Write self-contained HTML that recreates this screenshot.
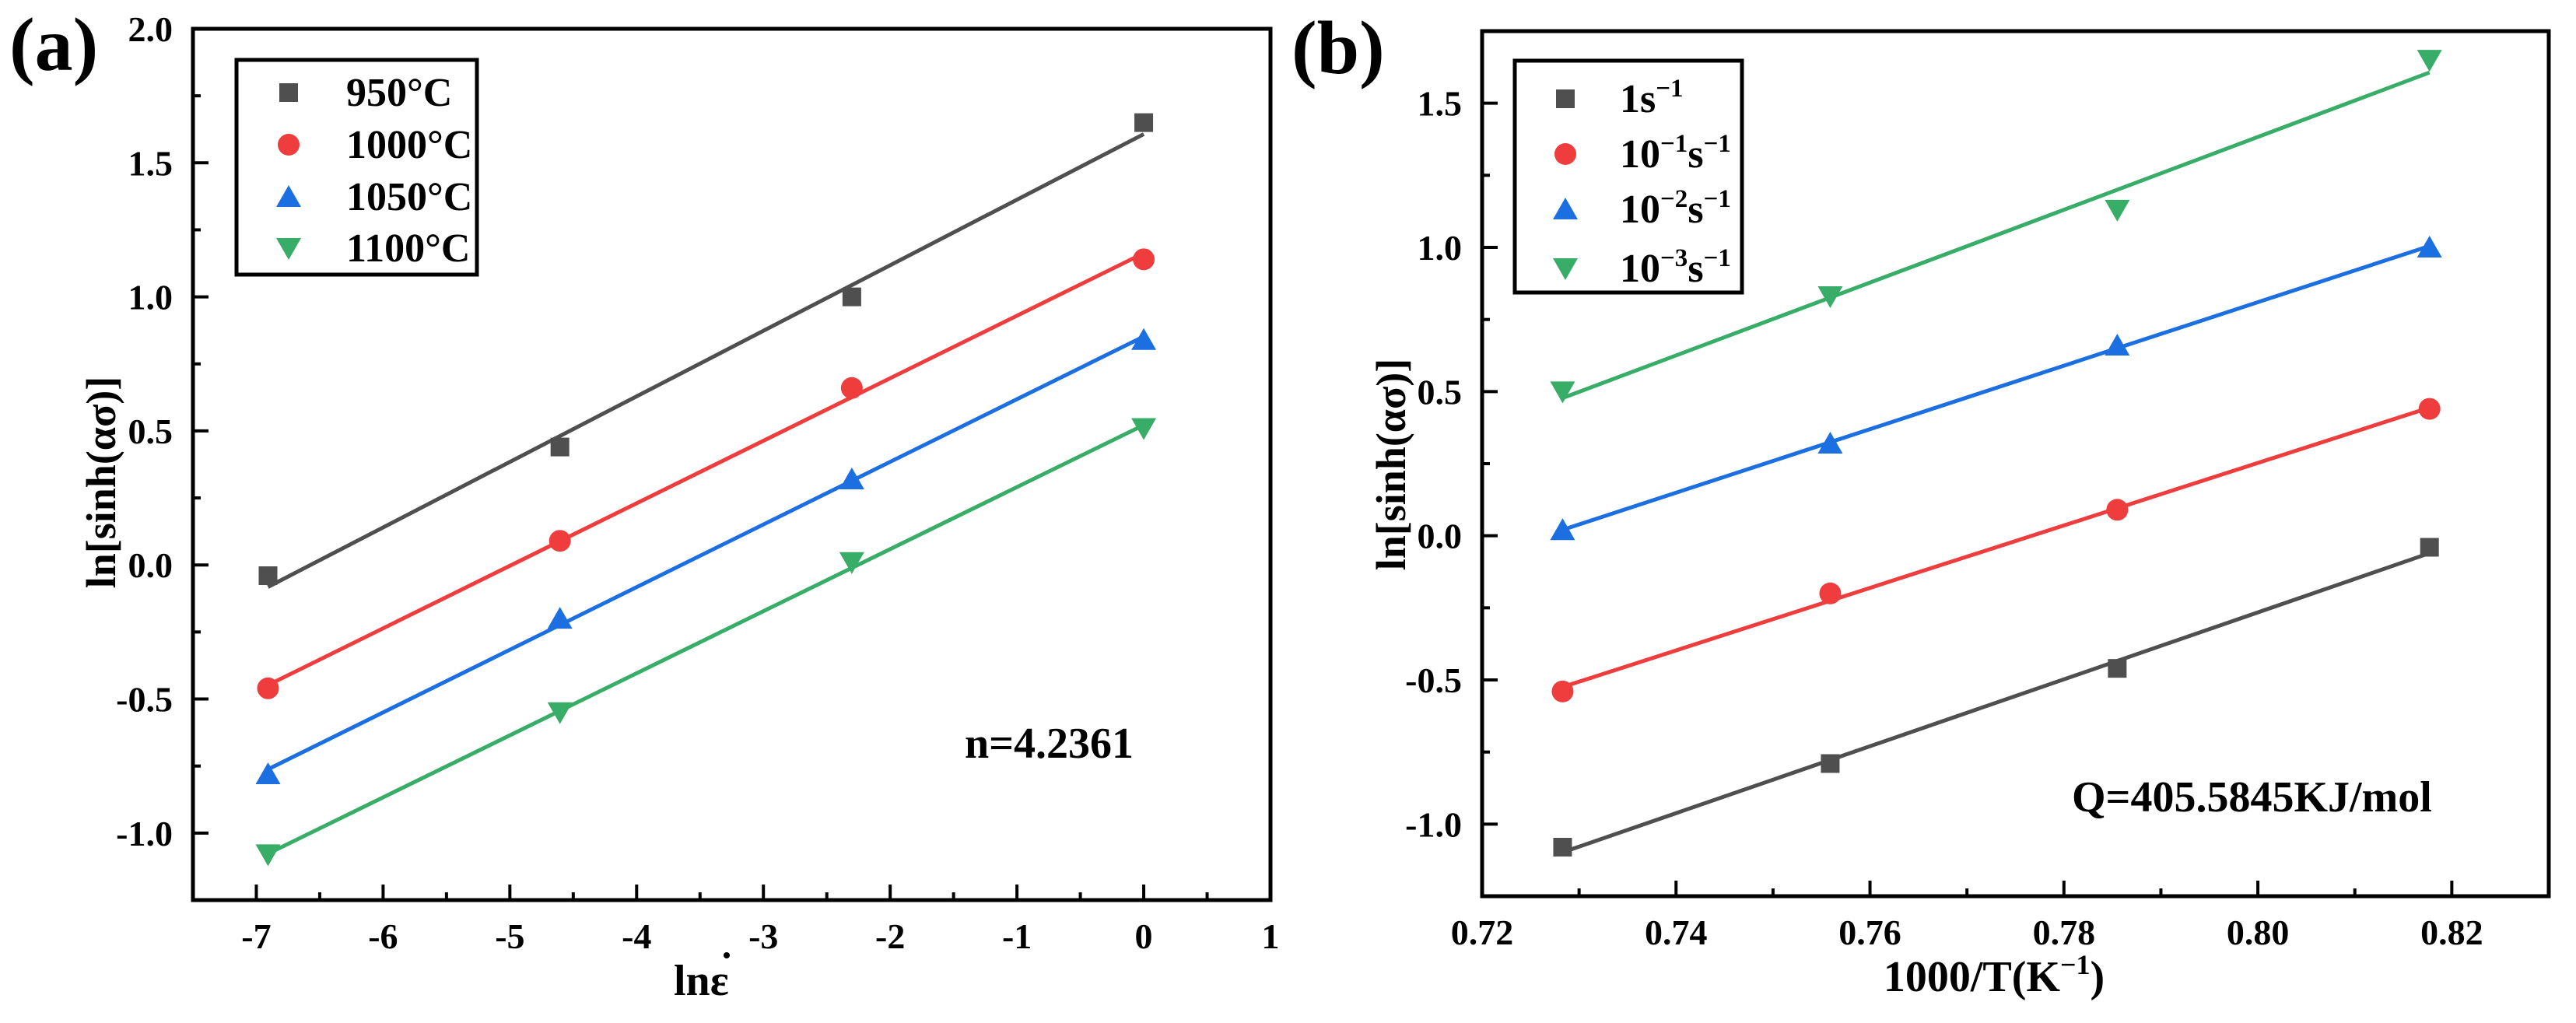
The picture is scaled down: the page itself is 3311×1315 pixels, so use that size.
<!DOCTYPE html>
<html><head><meta charset="utf-8"><style>
html,body{margin:0;padding:0;background:#fff;}
svg{display:block;}
svg text{font-family:"Liberation Serif","DejaVu Serif",serif;font-weight:bold;}
</style></head><body>
<svg id="fig" width="3311" height="1315" viewBox="0 0 3311 1315" xmlns="http://www.w3.org/2000/svg" font-family="Liberation Serif, DejaVu Serif, serif" font-weight="bold"></svg>
<script>
// ---- Chart (a) data ----
const aX = [-6.9078, -4.6052, -2.3026, 0];
const aNames = ["950°C", "1000°C", "1050°C", "1100°C"];
const a950 = [-0.04, 0.44, 1.00, 1.65];
const a1000 = [-0.46, 0.09, 0.66, 1.14];
const a1050 = [-0.78, -0.20, 0.32, 0.84];
const a1100 = [-1.08, -0.55, 0.01, 0.51];
const aXTicks = [-7, -6, -5, -4, -3, -2, -1, 0, 1];
const aYTicks = [-1.0, -0.5, 0.0, 0.5, 1.0, 1.5, 2.0];
// ---- Chart (b) data ----
const bX = [0.7283, 0.7559, 0.7855, 0.8177];
const bS0 = [-1.08, -0.79, -0.46, -0.04];
const bS1 = [-0.54, -0.20, 0.09, 0.44];
const bS2 = [0.02, 0.32, 0.66, 1.00];
const bS3 = [0.50, 0.83, 1.13, 1.65];
const bXTicks = [0.72, 0.74, 0.76, 0.78, 0.80, 0.82];
const bYTicks = [-1.0, -0.5, 0.0, 0.5, 1.0, 1.5];

const NS = "http://www.w3.org/2000/svg";
const svg = document.getElementById("fig");
const colors = ["#4f4f4f", "#ef3d3d", "#1c6fe0", "#38ad68"];
const shapes = ["square", "circle", "up", "down"];
const FONT = "Liberation Serif, DejaVu Serif, serif";

function mk(tag, attrs, parent) {
  const e = document.createElementNS(NS, tag);
  for (const k in attrs) e.setAttribute(k, attrs[k]);
  if (tag === "text") { e.setAttribute("font-family", FONT); e.setAttribute("font-weight", "bold"); }
  (parent || svg).appendChild(e);
  return e;
}
function marker(g, shape, cx, cy, color) {
  let e;
  if (shape === "square") e = mk("rect", {x: cx - 12, y: cy - 12, width: 24, height: 24, fill: color}, g);
  else if (shape === "circle") e = mk("circle", {cx: cx, cy: cy, r: 14, fill: color}, g);
  else if (shape === "up") e = mk("polygon", {points: `${cx},${cy - 15} ${cx + 16},${cy + 13} ${cx - 16},${cy + 13}`, fill: color}, g);
  else e = mk("polygon", {points: `${cx},${cy + 15} ${cx + 16},${cy - 13} ${cx - 16},${cy - 13}`, fill: color}, g);
  return e;
}
function fit(xs, ys) {
  const n = xs.length; let sx = 0, sy = 0, sxx = 0, sxy = 0;
  for (let i = 0; i < n; i++) { sx += xs[i]; sy += ys[i]; sxx += xs[i] * xs[i]; sxy += xs[i] * ys[i]; }
  const m = (n * sxy - sx * sy) / (n * sxx - sx * sx);
  return [m, (sy - m * sx) / n];
}
function drawChart(cfg) {
  const g = mk("g", {});
  
  
  const X = v => cfg.l + (v - cfg.x0) / (cfg.x1 - cfg.x0) * (cfg.r - cfg.l);
  const Y = v => cfg.b - (v - cfg.y0) / (cfg.y1 - cfg.y0) * (cfg.b - cfg.t);
  cfg.series.forEach((ys, i) => {
    const sg = mk("g", {}, g);
    
    
    const [m, c] = fit(cfg.xs, ys);
    const xa = cfg.xs[0], xb = cfg.xs[cfg.xs.length - 1];
    const ln = mk("line", {x1: X(xa), y1: Y(m * xa + c), x2: X(xb), y2: Y(m * xb + c), stroke: colors[i], "stroke-width": 5}, sg);
    
    
    cfg.xs.forEach((xv, j) => {
      const p = marker(sg, shapes[i], X(xv), Y(ys[j]), colors[i]);
      
      
    });
  });
  const fr = mk("rect", {x: cfg.l, y: cfg.t, width: cfg.r - cfg.l, height: cfg.b - cfg.t, fill: "none", stroke: "#000", "stroke-width": 5}, g);
  
  
  cfg.xTicks.forEach((v, i) => {
    const x = X(v);
    mk("line", {x1: x, y1: cfg.b, x2: x, y2: cfg.b - 20, stroke: "#000", "stroke-width": 4}, g);
    const t = mk("text", {x: x, y: cfg.b + 62, "text-anchor": "middle", "font-size": 46}, g);
    t.textContent = cfg.xLabels[i];
    
    
    if (i < cfg.xTicks.length - 1) {
      const xm = X((v + cfg.xTicks[i + 1]) / 2);
      mk("line", {x1: xm, y1: cfg.b, x2: xm, y2: cfg.b - 10, stroke: "#000", "stroke-width": 4}, g);
    }
  });
  cfg.yTicks.forEach((v, i) => {
    const y = Y(v);
    mk("line", {x1: cfg.l, y1: y, x2: cfg.l + 20, y2: y, stroke: "#000", "stroke-width": 4}, g);
    const t = mk("text", {x: cfg.l - 26, y: y + 16, "text-anchor": "end", "font-size": 46}, g);
    t.textContent = v.toFixed(1);
    
    
    const ym = Y(v + 0.25);
    if (ym > cfg.t + 5 && ym < cfg.b - 5) mk("line", {x1: cfg.l, y1: ym, x2: cfg.l + 10, y2: ym, stroke: "#000", "stroke-width": 4}, g);
    const ym2 = Y(v - 0.25);
    if (i === 0 && ym2 < cfg.b - 5) mk("line", {x1: cfg.l, y1: ym2, x2: cfg.l + 10, y2: ym2, stroke: "#000", "stroke-width": 4}, g);
  });
  return {X, Y, g};
}
drawChart({id: "chart-a", l: 248, r: 1633, t: 37, b: 1157, x0: -7.5, x1: 1, y0: -1.25, y1: 2.0,
  xs: aX, series: [a950, a1000, a1050, a1100], xTicks: aXTicks, xLabels: aXTicks.map(String), yTicks: aYTicks});
drawChart({id: "chart-b", l: 1905, r: 3276, t: 40, b: 1152, x0: 0.72, x1: 0.83, y0: -1.25, y1: 1.75,
  xs: bX, series: [bS0, bS1, bS2, bS3], xTicks: bXTicks, xLabels: bXTicks.map(v => v.toFixed(2)), yTicks: bYTicks});

function legend(id, x, y, w, h, rowsY, mx, tx, labels) {
  const g = mk("g", {});
  
  
  mk("rect", {x: x, y: y, width: w, height: h, fill: "#fff", stroke: "#000", "stroke-width": 5}, g);
  labels.forEach((lab, i) => {
    marker(g, shapes[i], mx, rowsY[i], colors[i]);
    const t = mk("text", {x: tx, y: rowsY[i] + 17, "font-size": 52}, g);
    t.innerHTML = lab;
    
    
  });
}
legend("legend-a", 304, 77, 309, 276, [119, 186, 253, 319], 371, 445, aNames);
legend("legend-b", 1947, 78, 292, 298, [127, 198, 269, 345], 2012, 2082,
  ['1s<tspan dy="-20" font-size="33">−1</tspan>',
   '10<tspan dy="-20" font-size="33">−1</tspan><tspan dy="20">s</tspan><tspan dy="-20" font-size="33">−1</tspan>',
   '10<tspan dy="-20" font-size="33">−2</tspan><tspan dy="20">s</tspan><tspan dy="-20" font-size="33">−1</tspan>',
   '10<tspan dy="-20" font-size="33">−3</tspan><tspan dy="20">s</tspan><tspan dy="-20" font-size="33">−1</tspan>']);

function txt(name, x, y, size, content, extra) {
  const t = mk("text", Object.assign({x: x, y: y, "font-size": size}, extra || {}));
  t.innerHTML = content;
  
  
  return t;
}
txt("panel-label-a", 12, 90, 98, "(a)");
txt("panel-label-b", 1660, 94, 98, "(b)");
txt("y-axis-title-a", 0, 0, 54, "ln[sinh(ασ)]", {"text-anchor": "middle", transform: "translate(148,620) rotate(-90)"});
txt("y-axis-title-b", 0, 0, 54, "ln[sinh(ασ)]", {"text-anchor": "middle", transform: "translate(1806,597) rotate(-90)"});
txt("x-axis-title-a", 866, 1279, 56, "lnε");
mk("circle", {cx: 934, cy: 1228, r: 4, fill: "#000"});
txt("x-axis-title-b", 2563, 1274, 56, '1000/T(K<tspan dy="-22" font-size="36">−1</tspan><tspan dy="22">)</tspan>', {"text-anchor": "middle"});
txt("annotation-n", 1240, 974, 56, "n=4.2361");
txt("annotation-q", 2663, 1043, 56, "Q=405.5845KJ/mol");
</script>
</body></html>
